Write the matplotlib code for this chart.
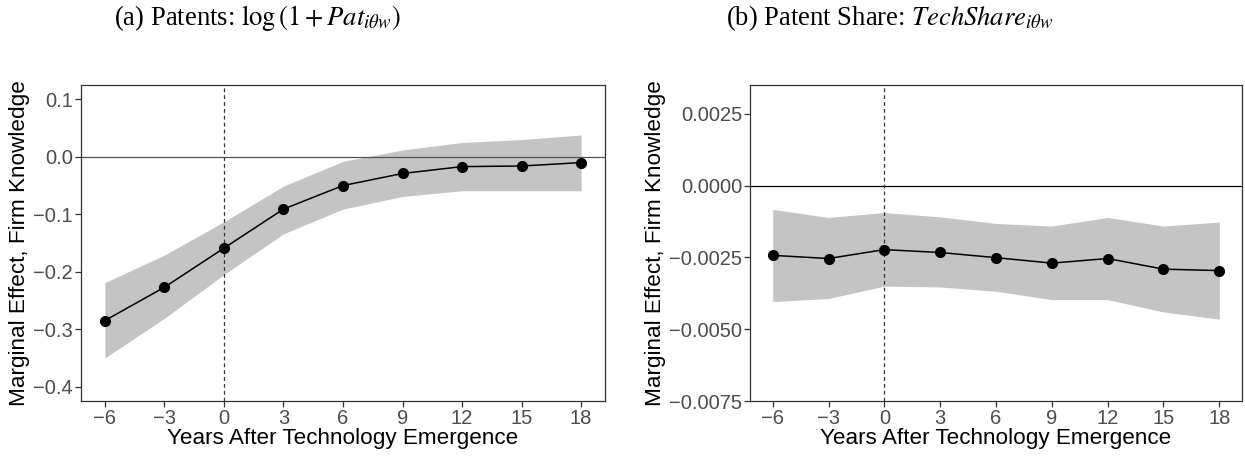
import matplotlib
matplotlib.use("Agg")
import matplotlib.pyplot as plt

# Event-time grid (years after technology emergence)
years = [-6, -3, 0, 3, 6, 9, 12, 15, 18]

# Panel (a): log(1 + patents)
pat_est = [-0.285, -0.227, -0.159, -0.091, -0.050, -0.029, -0.017, -0.016, -0.010]
pat_lo = [-0.350, -0.281, -0.205, -0.134, -0.091, -0.069, -0.059, -0.059, -0.059]
pat_hi = [-0.219, -0.171, -0.113, -0.051, -0.008, 0.012, 0.025, 0.030, 0.038]

# Panel (b): technology share
share_est = [-0.00243, -0.00254, -0.00223, -0.00233, -0.00251, -0.00270, -0.00254, -0.00291, -0.00296]
share_lo = [-0.00404, -0.00393, -0.00350, -0.00353, -0.00368, -0.00397, -0.00397, -0.00440, -0.00465]
share_hi = [-0.00083, -0.00111, -0.00094, -0.00109, -0.00132, -0.00141, -0.00111, -0.00141, -0.00127]

x_ticks = [-6, -3, 0, 3, 6, 9, 12, 15, 18]
pat_yticks = [-0.4, -0.3, -0.2, -0.1, 0.0, 0.1]
pat_ylabels = ["\u22120.4", "\u22120.3", "\u22120.2", "\u22120.1", "0.0", "0.1"]
share_yticks = [-0.0075, -0.005, -0.0025, 0.0, 0.0025]
share_ylabels = ["\u22120.0075", "\u22120.0050", "\u22120.0025", "0.0000", "0.0025"]

titles = [r"(a) Patents: $\log\left(1+Pat_{i\theta w}\right)$",
          r"(b) Patent Share: $TechShare_{i\theta w}$"]
xlabel = "Years After Technology Emergence"
ylabel = "Marginal Effect, Firm Knowledge"

plt.rcParams["font.family"] = ["Liberation Sans", "DejaVu Sans"]
plt.rcParams["mathtext.fontset"] = "stix"

fig = plt.figure(figsize=(12.45, 4.57), dpi=100)
ax1 = fig.add_axes([0.0651, 0.1225, 0.4208, 0.6915])
ax2 = fig.add_axes([0.6027, 0.1225, 0.3946, 0.6915])

band_color = "#C4C4C4"
tick_gray = "#4D4D4D"
frame_gray = "#333333"


def draw(ax, est, lo, hi, yticks, ylabels, ylim, zero_color):
    ax.fill_between(years, lo, hi, color=band_color, linewidth=0, zorder=1)
    ax.axhline(0, color=zero_color, linewidth=0.9, zorder=2)
    ax.axvline(0, color="#333333", linewidth=0.9, linestyle=(0, (3, 2.5)), zorder=2)
    ax.plot(years, est, color="black", linewidth=1.1, marker="o",
            markersize=7, zorder=3)
    ax.set_xlim(-7.2, 19.2)
    ax.set_ylim(*ylim)
    ax.set_xticks(x_ticks)
    ax.set_xticklabels([str(v).replace("-", "\u2212") for v in x_ticks])
    ax.set_yticks(yticks)
    ax.set_yticklabels(ylabels)
    ax.tick_params(axis="both", direction="out", length=4, width=0.9,
                   color=frame_gray, labelcolor=tick_gray, labelsize=14.5, pad=2)
    for sp in ax.spines.values():
        sp.set_color(frame_gray)
        sp.set_linewidth(0.9)
    ax.set_xlabel(xlabel, fontsize=16.2, color="black", labelpad=0)
    ax.set_ylabel(ylabel, fontsize=16.2, color="black", labelpad=2)


draw(ax1, pat_est, pat_lo, pat_hi, pat_yticks, pat_ylabels, (-0.425, 0.125), "#555555")
draw(ax2, share_est, share_lo, share_hi, share_yticks, share_ylabels, (-0.0075, 0.0035), "black")

fig.text(0.207, 0.960, titles[0], ha="center", va="center", fontsize=19.2,
         family="Liberation Serif")
fig.text(0.7145, 0.960, titles[1], ha="center", va="center", fontsize=19.2,
         family="Liberation Serif")

fig.savefig("out.png", dpi=100)
